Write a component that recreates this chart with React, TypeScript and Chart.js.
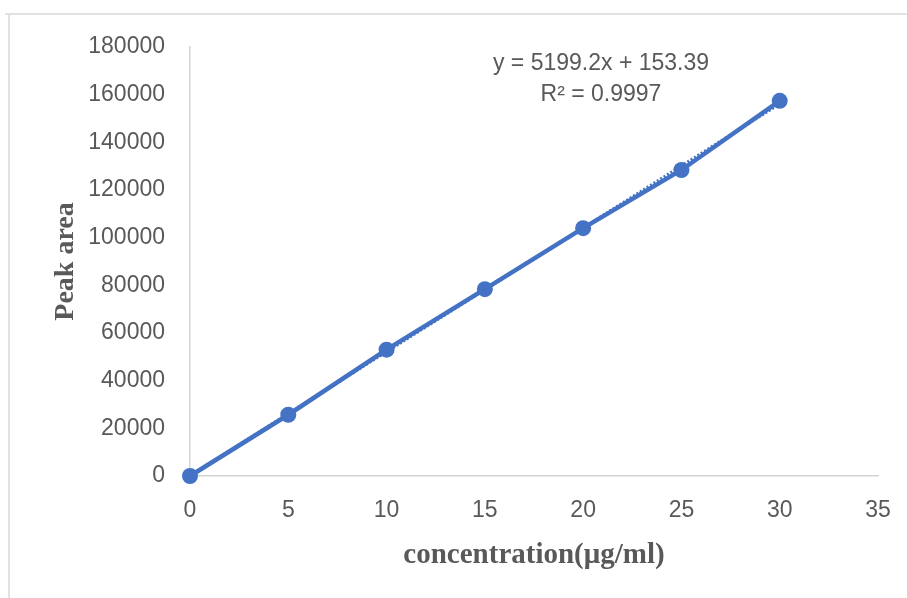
import React, { useEffect, useRef } from "react";
import { Chart, registerables } from "chart.js";

Chart.register(...registerables);

// ---- data ----
const concentration = [0, 5, 10, 15, 20, 25, 30];
const peakArea = [0, 25700, 53000, 78400, 104000, 128400, 157400];
const trendX = [0, 30];
const trendY = [153.39, 156129.39];
const xTickValues = [0, 5, 10, 15, 20, 25, 30, 35];
const yTickValues = [0, 20000, 40000, 60000, 80000, 100000, 120000, 140000, 160000, 180000];
const equationLines = ["y = 5199.2x + 153.39", "R\u00b2 = 0.9997"];
const xTitle = "concentration(\u03bcg/ml)";
const yTitle = "Peak area";

const BLUE = "#4472C4";
const TEXT = "#595959";
const AXIS = "#d4d4d4";

export default function App() {
  const ref = useRef<HTMLCanvasElement | null>(null);

  useEffect(() => {
    if (!ref.current) return;

    const decor = {
      id: "decor",
      beforeDraw(chart: any) {
        const ctx = chart.ctx;
        ctx.save();
        ctx.fillStyle = "#ffffff";
        ctx.fillRect(0, 0, chart.width, chart.height);
        ctx.strokeStyle = "#d9d9d9";
        ctx.lineWidth = 1.5;
        ctx.beginPath();
        ctx.moveTo(5, 14);
        ctx.lineTo(chart.width, 14);
        ctx.moveTo(9, 14);
        ctx.lineTo(9, chart.height);
        ctx.stroke();
        ctx.restore();
      },
      afterDraw(chart: any) {
        const ctx = chart.ctx;
        ctx.save();
        ctx.fillStyle = TEXT;
        ctx.font = "23px 'Liberation Sans', Arial, sans-serif";
        ctx.textAlign = "center";
        ctx.textBaseline = "middle";
        ctx.fillText(equationLines[0], 601, 64);
        ctx.fillText(equationLines[1], 601, 95);
        ctx.restore();
      },
    };

    const chart = new Chart(ref.current, {
      type: "scatter",
      data: {
        datasets: [
          {
            label: "Peak area",
            data: concentration.map((x, i) => ({ x, y: peakArea[i] })),
            showLine: true,
            borderColor: BLUE,
            backgroundColor: BLUE,
            borderWidth: 4.5,
            pointRadius: 8,
            pointBorderWidth: 0,
            pointHoverRadius: 8,
            clip: false,
            order: 2,
          },
          {
            label: "Linear",
            data: trendX.map((x, i) => ({ x, y: trendY[i] })),
            showLine: true,
            borderColor: BLUE,
            backgroundColor: BLUE,
            borderWidth: 3,
            borderDash: [2, 2],
            pointRadius: 0,
            pointHoverRadius: 0,
            clip: false,
            order: 1,
          },
        ],
      },
      options: {
        animation: false,
        responsive: false,
        maintainAspectRatio: false,
        events: [],
        layout: { padding: { left: 49, top: 47, right: 29, bottom: 25 } },
        plugins: {
          legend: { display: false },
          tooltip: { enabled: false },
        },
        scales: {
          x: {
            type: "linear",
            min: 0,
            max: 35,
            afterBuildTicks: (s: any) => {
              s.ticks = xTickValues.map((v) => ({ value: v }));
            },
            afterFit: (s: any) => {
              s.height = 97;
              s.paddingLeft = 0;
              s.paddingRight = 0;
            },
            grid: { display: false, drawTicks: false },
            border: { display: true, color: AXIS, width: 1.5 },
            ticks: {
              color: TEXT,
              padding: 21,
              font: { family: "'Liberation Sans', Arial, sans-serif", size: 23 },
              callback: (v: any) => String(v),
            },
            title: {
              display: true,
              text: xTitle,
              color: TEXT,
              padding: { top: 0, bottom: 0 },
              font: { family: "'Liberation Serif', 'Times New Roman', serif", size: 29, weight: "bold" },
            },
          },
          y: {
            type: "linear",
            min: 0,
            max: 180000,
            afterBuildTicks: (s: any) => {
              s.ticks = yTickValues.map((v) => ({ value: v }));
            },
            afterFit: (s: any) => {
              s.width = 141;
              s.paddingTop = 0;
              s.paddingBottom = 0;
            },
            grid: { display: false, drawTicks: false },
            border: { display: true, color: AXIS, width: 1.5 },
            ticks: {
              color: TEXT,
              padding: 25,
              font: { family: "'Liberation Sans', Arial, sans-serif", size: 23 },
              callback: (v: any) => String(v),
            },
            title: {
              display: true,
              text: yTitle,
              color: TEXT,
              padding: { top: 0, bottom: 0 },
              font: { family: "'Liberation Serif', 'Times New Roman', serif", size: 28, weight: "bold" },
            },
          },
        },
      },
      plugins: [decor],
    } as any);

    return () => chart.destroy();
  }, []);

  return (
    <div style={{ position: "absolute", left: 0, top: 0, width: 907, height: 598, background: "#fff" }}>
      <canvas ref={ref} width={907} height={598} style={{ display: "block", width: 907, height: 598 }} />
    </div>
  );
}
